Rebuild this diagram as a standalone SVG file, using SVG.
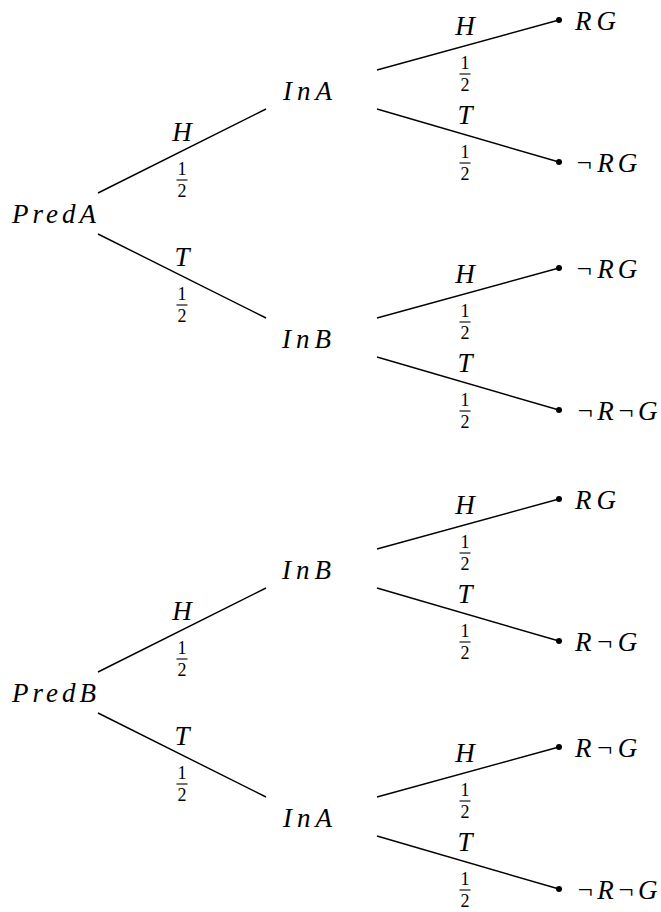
<svg xmlns="http://www.w3.org/2000/svg" width="661" height="912" viewBox="0 0 661 912">
<style>
.e{stroke:#000;stroke-width:1.4;fill:none}
.fb{stroke:#000;stroke-width:1.1}
.dot{fill:#000}
</style>
<rect fill="#fff" x="0" y="0" width="661" height="912"/>

<g id="connectors">
  <g id="edge-lines">
    <line class="e" x1="98" y1="193" x2="266" y2="109"/>
    <line class="e" x1="98" y1="234" x2="266" y2="318"/>
    <line class="e" x1="377" y1="70" x2="559" y2="20"/>
    <line class="e" x1="377" y1="109" x2="559" y2="162"/>
    <line class="e" x1="377" y1="318" x2="559" y2="268"/>
    <line class="e" x1="377" y1="357" x2="559" y2="410"/>
    <line class="e" x1="98" y1="672" x2="266" y2="588"/>
    <line class="e" x1="98" y1="713" x2="266" y2="797"/>
    <line class="e" x1="377" y1="549" x2="559" y2="499"/>
    <line class="e" x1="377" y1="588" x2="559" y2="641"/>
    <line class="e" x1="377" y1="797" x2="559" y2="747"/>
    <line class="e" x1="377" y1="836" x2="559" y2="889"/>
  </g>
  <g id="edge-labels">
    <text x="182" y="141" font-family="Liberation Serif" font-style="italic" font-size="27" text-anchor="middle">H</text>
    <text x="182" y="266" font-family="Liberation Serif" font-style="italic" font-size="27" text-anchor="middle">T</text>
    <text x="465" y="35" font-family="Liberation Serif" font-style="italic" font-size="27" text-anchor="middle">H</text>
    <text x="465" y="124" font-family="Liberation Serif" font-style="italic" font-size="27" text-anchor="middle">T</text>
    <text x="465" y="283" font-family="Liberation Serif" font-style="italic" font-size="27" text-anchor="middle">H</text>
    <text x="465" y="372" font-family="Liberation Serif" font-style="italic" font-size="27" text-anchor="middle">T</text>
    <text x="182" y="620" font-family="Liberation Serif" font-style="italic" font-size="27" text-anchor="middle">H</text>
    <text x="182" y="745" font-family="Liberation Serif" font-style="italic" font-size="27" text-anchor="middle">T</text>
    <text x="465" y="514" font-family="Liberation Serif" font-style="italic" font-size="27" text-anchor="middle">H</text>
    <text x="465" y="603" font-family="Liberation Serif" font-style="italic" font-size="27" text-anchor="middle">T</text>
    <text x="465" y="762" font-family="Liberation Serif" font-style="italic" font-size="27" text-anchor="middle">H</text>
    <text x="465" y="851" font-family="Liberation Serif" font-style="italic" font-size="27" text-anchor="middle">T</text>
  </g>
  <g id="edge-fractions">
    <text x="182" y="175" font-family="Liberation Serif" font-size="18" text-anchor="middle">1</text><line class="fb" x1="176.5" y1="180" x2="187.5" y2="180"/><text x="182" y="197" font-family="Liberation Serif" font-size="18" text-anchor="middle">2</text>
    <text x="182" y="300" font-family="Liberation Serif" font-size="18" text-anchor="middle">1</text><line class="fb" x1="176.5" y1="305" x2="187.5" y2="305"/><text x="182" y="322" font-family="Liberation Serif" font-size="18" text-anchor="middle">2</text>
    <text x="465" y="69" font-family="Liberation Serif" font-size="18" text-anchor="middle">1</text><line class="fb" x1="459.5" y1="74" x2="470.5" y2="74"/><text x="465" y="91" font-family="Liberation Serif" font-size="18" text-anchor="middle">2</text>
    <text x="465" y="158" font-family="Liberation Serif" font-size="18" text-anchor="middle">1</text><line class="fb" x1="459.5" y1="163" x2="470.5" y2="163"/><text x="465" y="180" font-family="Liberation Serif" font-size="18" text-anchor="middle">2</text>
    <text x="465" y="317" font-family="Liberation Serif" font-size="18" text-anchor="middle">1</text><line class="fb" x1="459.5" y1="322" x2="470.5" y2="322"/><text x="465" y="339" font-family="Liberation Serif" font-size="18" text-anchor="middle">2</text>
    <text x="465" y="406" font-family="Liberation Serif" font-size="18" text-anchor="middle">1</text><line class="fb" x1="459.5" y1="411" x2="470.5" y2="411"/><text x="465" y="428" font-family="Liberation Serif" font-size="18" text-anchor="middle">2</text>
    <text x="182" y="654" font-family="Liberation Serif" font-size="18" text-anchor="middle">1</text><line class="fb" x1="176.5" y1="659" x2="187.5" y2="659"/><text x="182" y="676" font-family="Liberation Serif" font-size="18" text-anchor="middle">2</text>
    <text x="182" y="779" font-family="Liberation Serif" font-size="18" text-anchor="middle">1</text><line class="fb" x1="176.5" y1="784" x2="187.5" y2="784"/><text x="182" y="801" font-family="Liberation Serif" font-size="18" text-anchor="middle">2</text>
    <text x="465" y="548" font-family="Liberation Serif" font-size="18" text-anchor="middle">1</text><line class="fb" x1="459.5" y1="553" x2="470.5" y2="553"/><text x="465" y="570" font-family="Liberation Serif" font-size="18" text-anchor="middle">2</text>
    <text x="465" y="637" font-family="Liberation Serif" font-size="18" text-anchor="middle">1</text><line class="fb" x1="459.5" y1="642" x2="470.5" y2="642"/><text x="465" y="659" font-family="Liberation Serif" font-size="18" text-anchor="middle">2</text>
    <text x="465" y="796" font-family="Liberation Serif" font-size="18" text-anchor="middle">1</text><line class="fb" x1="459.5" y1="801" x2="470.5" y2="801"/><text x="465" y="818" font-family="Liberation Serif" font-size="18" text-anchor="middle">2</text>
    <text x="465" y="885" font-family="Liberation Serif" font-size="18" text-anchor="middle">1</text><line class="fb" x1="459.5" y1="890" x2="470.5" y2="890"/><text x="465" y="907" font-family="Liberation Serif" font-size="18" text-anchor="middle">2</text>
  </g>
</g>

<g id="predA"><text x="12" y="223" font-family="Liberation Serif" font-style="italic" font-size="27" letter-spacing="4">PredA</text></g>
<g id="inA-top"><text x="283" y="100" font-family="Liberation Serif" font-style="italic" font-size="27" letter-spacing="5">InA</text></g>
<g id="inB-top"><text x="282" y="348" font-family="Liberation Serif" font-style="italic" font-size="27" letter-spacing="5">InB</text></g>
<g id="leaf1"><circle class="dot" cx="559" cy="20" r="3"/><text x="575" y="30" font-family="Liberation Serif" font-style="italic" font-size="27" letter-spacing="5">RG</text></g>
<g id="leaf2"><circle class="dot" cx="559" cy="162" r="3"/><text x="575" y="172" font-family="Liberation Serif" font-style="italic" font-size="27" letter-spacing="4">&#172;RG</text></g>
<g id="leaf3"><circle class="dot" cx="559" cy="268" r="3"/><text x="575" y="278" font-family="Liberation Serif" font-style="italic" font-size="27" letter-spacing="4">&#172;RG</text></g>
<g id="leaf4"><circle class="dot" cx="559" cy="410" r="3"/><text x="576" y="420" font-family="Liberation Serif" font-style="italic" font-size="27" letter-spacing="3">&#172;R&#172;G</text></g>
<g id="predB"><text x="12" y="702" font-family="Liberation Serif" font-style="italic" font-size="27" letter-spacing="4">PredB</text></g>
<g id="inB-bottom"><text x="282" y="579" font-family="Liberation Serif" font-style="italic" font-size="27" letter-spacing="5">InB</text></g>
<g id="inA-bottom"><text x="283" y="827" font-family="Liberation Serif" font-style="italic" font-size="27" letter-spacing="5">InA</text></g>
<g id="leaf5"><circle class="dot" cx="559" cy="499" r="3"/><text x="575" y="509" font-family="Liberation Serif" font-style="italic" font-size="27" letter-spacing="5">RG</text></g>
<g id="leaf6"><circle class="dot" cx="559" cy="641" r="3"/><text x="575" y="651" font-family="Liberation Serif" font-style="italic" font-size="27" letter-spacing="4">R&#172;G</text></g>
<g id="leaf7"><circle class="dot" cx="559" cy="747" r="3"/><text x="575" y="757" font-family="Liberation Serif" font-style="italic" font-size="27" letter-spacing="4">R&#172;G</text></g>
<g id="leaf8"><circle class="dot" cx="559" cy="889" r="3"/><text x="576" y="899" font-family="Liberation Serif" font-style="italic" font-size="27" letter-spacing="3">&#172;R&#172;G</text></g>
</svg>
